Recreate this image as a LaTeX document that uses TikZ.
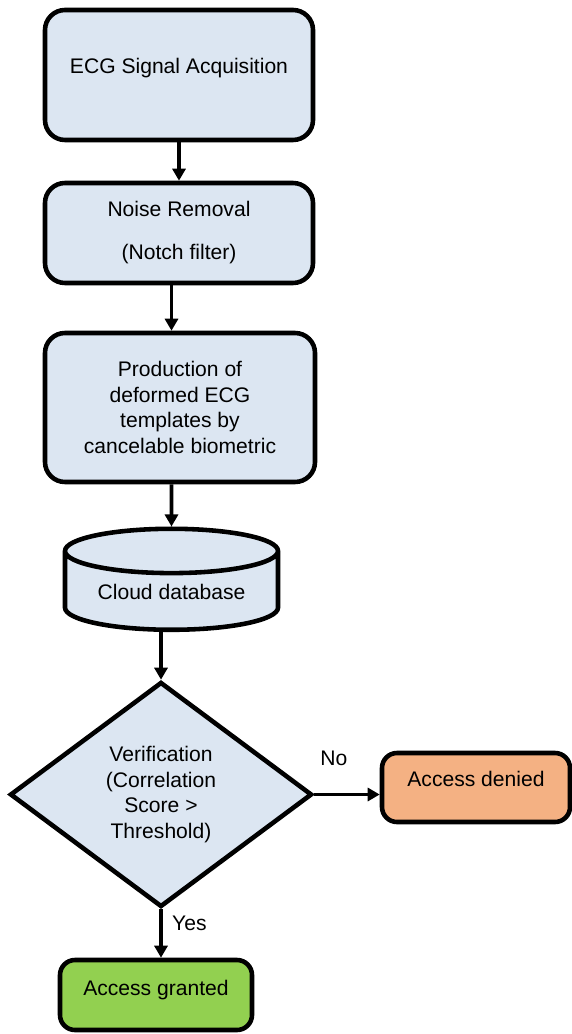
\documentclass[tikz,border=0pt]{standalone}
\usepackage{fontspec}
\setmainfont{Liberation Sans}
\usetikzlibrary{shapes.geometric,arrows.meta}

\definecolor{azulclaro}{HTML}{DCE6F2}
\definecolor{laranja}{HTML}{F4B183}
\definecolor{verde}{HTML}{92D050}

\begin{document}
\begin{tikzpicture}[
    font=\fontsize{12}{14.5}\selectfont,
    caixa/.style={draw, line width=2.6pt, rounded corners=0.4cm, fill=azulclaro, align=center, inner sep=0pt},
    seta/.style={-{Triangle[length=0.24cm,width=0.26cm]}, line width=2pt},
  ]
    \useasboundingbox (0,0) rectangle (11.42,-20.68);

    % Etapas do processamento
    \node[caixa, minimum width=5.36cm, minimum height=2.6cm, text depth=0.37cm] (aquisicao) at (3.58,-1.5) {ECG Signal Acquisition};
    \node[caixa, minimum width=5.36cm, minimum height=2cm] (ruido) at (3.58,-4.66) {Noise Removal\\[10pt](Notch filter)};
    \node[caixa, minimum width=5.4cm, minimum height=2.98cm] (templates) at (3.6,-8.15) {Production of\\deformed ECG\\templates by\\cancelable biometric};

    % Banco de dados
    \node[cylinder, shape border rotate=90, aspect=0.3, draw, line width=2.6pt, fill=azulclaro,
          minimum width=4.26cm, minimum height=2.02cm, inner sep=0pt] (banco) at (3.43,-11.83) {Cloud database};

    % Decisao
    \node[diamond, draw, line width=2.6pt, fill=azulclaro, aspect=1.34, align=center,
          minimum width=6.04cm, minimum height=4.5cm, inner sep=0pt] (verifica) at (3.22,-15.89) {Verification\\(Correlation\\Score >\\Threshold)};

    % Resultados
    \node[caixa, fill=laranja, rounded corners=0.3cm, minimum width=3.76cm, minimum height=1.38cm, text depth=0.36cm] (negado) at (9.52,-15.75) {Access denied};
    \node[caixa, fill=verde, rounded corners=0.3cm, minimum width=3.84cm, minimum height=1.4cm, text depth=0.29cm] (liberado) at (3.12,-19.9) {Access granted};

    % Setas
    \draw[seta] (aquisicao) -- (ruido);
    \draw[seta] (ruido.south -| banco) -- (templates.north -| banco);
    \draw[seta] (templates.south -| banco) -- (banco);
    \draw[seta] (banco.bottom -| verifica) -- (verifica.north);
    \draw[seta] (verifica.east) -- (verifica.east -| negado.west) node[pos=0.3, above=12pt] {No};
    \draw[seta] (verifica.south) -- (verifica.south |- liberado.north) node[pos=0.3, right=2pt] {Yes};
\end{tikzpicture}
\end{document}
